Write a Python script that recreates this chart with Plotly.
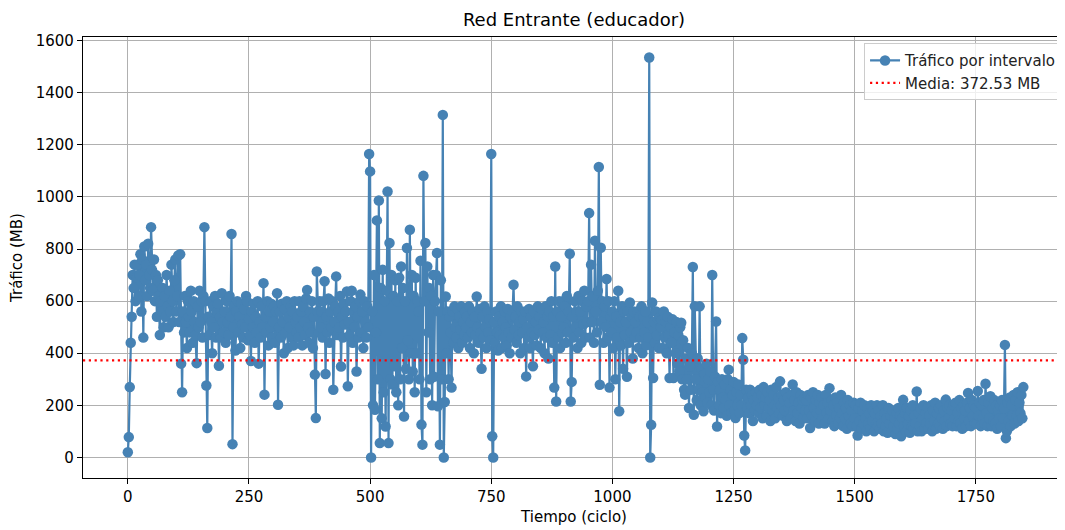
import plotly.graph_objects as go

# Tráfico (MB) por intervalo, un valor cada 2 ciclos (filas de 50 ciclos)
paso = 2
trafico = [
    # 0-48
    20, 78, 270, 440, 540, 700, 650, 740, 600, 690, 740, 620, 700, 780, 560, 760, 460, 810, 680, 740, 620, 820, 700, 650, 884,
    # 50-98
    720, 640, 760, 600, 700, 540, 680, 620, 470, 600, 560, 650, 500, 620, 540, 700, 580, 500, 640, 560, 740, 600, 520, 680, 760,
    # 100-148
    560, 620, 775, 520, 780, 360, 250, 560, 480, 620, 520, 420, 600, 540, 480, 640, 560, 440, 600, 520, 470, 362, 580, 500, 640,
    # 150-198
    520, 600, 460, 620, 884, 600, 276, 113, 540, 470, 600, 520, 400, 580, 500, 620, 460, 560, 590, 352, 540, 460, 630, 520, 480,
    # 200-248
    560, 440, 600, 520, 470, 620, 540, 858, 51, 500, 580, 410, 560, 600, 480, 540, 420, 590, 510, 460, 570, 500, 620, 600, 450,
    # 250-298
    530, 470, 370, 560, 500, 590, 440, 540, 480, 600, 360, 520, 460, 580, 500, 669, 241, 540, 480, 600, 430, 560, 500, 590, 460,
    # 300-348
    520, 580, 440, 560, 630, 202, 500, 560, 460, 590, 520, 400, 570, 480, 600, 420, 540, 500, 580, 460, 560, 430, 600, 520, 480,
    # 350-398
    540, 460, 600, 500, 560, 430, 580, 520, 470, 610, 643, 500, 440, 560, 480, 600, 420, 540, 318, 151, 714, 560, 480, 600, 500,
    # 400-448
    560, 460, 600, 676, 320, 540, 480, 610, 440, 560, 500, 600, 260, 520, 580, 695, 470, 560, 500, 620, 349, 540, 460, 590, 510,
    # 450-498
    560, 637, 273, 520, 470, 600, 640, 440, 560, 500, 580, 330, 540, 460, 600, 625, 480, 560, 420, 600, 520, 460, 580, 500, 1165,
    # 500-548
    1098, 0, 560, 200, 700, 183, 480, 910, 300, 986, 55, 650, 150, 720, 250, 600, 119, 640, 1021, 55, 823, 300, 700, 280, 620,
    # 550-598
    350, 680, 250, 600, 200, 690, 300, 733, 420, 650, 157, 600, 340, 804, 450, 300, 874, 400, 700, 330, 620, 250, 690, 400, 600,
    # 600-648
    560, 300, 755, 126, 49, 1081, 600, 823, 250, 733, 480, 650, 300, 620, 200, 700, 310, 600, 700, 785, 196, 560, 49, 680, 300,
    # 650-698
    1315, 0, 213, 618, 400, 560, 300, 540, 480, 268, 560, 440, 580, 500, 460, 570, 420, 540, 490, 580, 440, 520, 470, 560, 500,
    # 700-748
    540, 460, 580, 420, 520, 480, 560, 400, 540, 470, 618, 500, 440, 570, 480, 340, 540, 460, 580, 500, 420, 560, 480, 530, 450,
    # 750-798
    1165, 81, 0, 520, 440, 560, 480, 410, 540, 470, 580, 420, 520, 460, 560, 500, 430, 570, 480, 400, 540, 460, 560, 663, 490,
    # 800-848
    540, 440, 580, 470, 520, 400, 560, 480, 530, 420, 560, 311, 500, 460, 570, 420, 540, 480, 350, 560, 470, 520, 430, 580, 490,
    # 850-898
    540, 420, 570, 480, 520, 400, 580, 460, 540, 380, 560, 470, 600, 440, 540, 268, 733, 215, 560, 460, 600, 420, 540, 480, 600,
    # 900-948
    500, 580, 440, 620, 480, 560, 782, 215, 290, 540, 460, 600, 500, 560, 420, 620, 480, 560, 440, 600, 510, 640, 460, 580, 520,
    # 950-998
    600, 938, 460, 740, 520, 620, 440, 832, 560, 480, 640, 1115, 279, 805, 520, 600, 440, 580, 500, 685, 460, 600, 268, 540, 480,
    # 1000-1048
    560, 420, 600, 300, 540, 460, 640, 177, 520, 430, 580, 340, 560, 470, 520, 310, 560, 440, 595, 480, 540, 380, 560, 460, 520,
    # 1050-1098
    480, 560, 420, 540, 460, 580, 400, 540, 480, 560, 430, 520, 460, 1535, 0, 125, 595, 305, 520, 440, 560, 470, 530, 420, 540,
    # 1100-1148
    500, 528, 420, 560, 460, 520, 400, 540, 470, 305, 500, 440, 530, 305, 480, 400, 520, 360, 470, 330, 500, 517, 300, 450, 260,
    # 1150-1198
    241, 380, 300, 420, 190, 350, 260, 400, 731, 164, 580, 300, 220, 380, 260, 580, 200, 340, 250, 177, 320, 230, 360, 210, 300,
    # 1200-1248
    250, 330, 200, 700, 260, 180, 310, 522, 119, 290, 200, 260, 170, 300, 230, 190, 280, 220, 160, 300, 337, 200, 260, 170, 240,
    # 1250-1298
    290, 180, 151, 250, 200, 280, 170, 240, 200, 458, 375, 84, 27, 260, 190, 230, 170, 260, 200, 240, 140, 220, 180, 250, 200,
    # 1300-1348
    230, 170, 260, 190, 240, 150, 270, 200, 230, 160, 250, 190, 220, 140, 260, 180, 240, 200, 150, 270, 190, 230, 170, 292, 200,
    # 1350-1398
    240, 160, 220, 180, 250, 140, 230, 190, 210, 150, 240, 280, 180, 220, 140, 250, 170, 210, 130, 240, 190, 220, 150, 230, 180,
    # 1400-1448
    220, 150, 240, 180, 113, 230, 160, 250, 190, 140, 220, 170, 240, 130, 210, 180, 230, 150, 200, 130, 240, 170, 210, 150, 266,
    # 1450-1498
    180, 220, 140, 200, 120, 230, 160, 210, 130, 190, 150, 240, 170, 120, 210, 150, 190, 110, 220, 160, 200, 130, 180, 120, 210,
    # 1500-1548
    150, 200, 120, 84, 190, 140, 210, 110, 180, 130, 200, 150, 100, 190, 130, 170, 110, 200, 140, 180, 100, 170, 130, 200, 120,
    # 1550-1598
    180, 110, 160, 130, 200, 100, 170, 120, 150, 95, 190, 130, 160, 100, 180, 120, 150, 90, 170, 110, 190, 130, 160, 81, 150,
    # 1600-1648
    221, 120, 170, 100, 190, 130, 160, 95, 180, 120, 200, 110, 160, 130, 253, 100, 170, 120, 190, 100, 150, 200, 110, 170, 130,
    # 1650-1698
    190, 110, 160, 130, 200, 100, 180, 140, 210, 110, 170, 130, 190, 120, 200, 150, 110, 180, 140, 222, 120, 190, 150, 200, 130,
    # 1700-1748
    180, 120, 200, 150, 210, 120, 170, 140, 220, 130, 190, 110, 200, 150, 180, 120, 210, 247, 140, 190, 120, 220, 160, 200, 130,
    # 1750-1798
    190, 130, 255, 160, 210, 120, 200, 150, 220, 130, 283, 170, 120, 210, 150, 235, 120, 190, 140, 220, 130, 200, 110, 180, 150,
    # 1800-1848
    200, 120, 220, 150, 190, 432, 74, 100, 210, 140, 230, 120, 200, 160, 240, 130, 220, 160, 250, 140, 210, 170, 240, 150, 270,
]
ciclos = [i * paso for i in range(len(trafico))]
media = 372.53

x_ticks = [0, 250, 500, 750, 1000, 1250, 1500, 1750]
y_ticks = [0, 200, 400, 600, 800, 1000, 1200, 1400, 1600]

azul = "#4682B4"
fuente = "DejaVu Sans"

fig = go.Figure()
fig.add_trace(go.Scatter(
    x=ciclos, y=trafico, mode="lines+markers",
    name="Tráfico por intervalo",
    line=dict(color=azul, width=2.2),
    marker=dict(color=azul, size=10.5),
))
fig.add_shape(
    type="line", xref="paper", x0=0, x1=1, yref="y", y0=media, y1=media,
    line=dict(color="red", width=2.2, dash="2.2px,3.6px"),
    showlegend=True, name=f"Media: {media:.2f} MB", layer="above",
)

fig.update_layout(
    width=1057, height=522,
    margin=dict(l=75, r=0, t=29, b=52, autoexpand=False),
    paper_bgcolor="white", plot_bgcolor="white",
    font=dict(family=fuente, size=15, color="black"),
    title=dict(text="Red Entrante (educador)", x=0.5, xanchor="center",
               xref="paper", y=0.977, yref="container", yanchor="middle",
               font=dict(family=fuente, size=18, color="black")),
    legend=dict(x=0.997, xanchor="right", y=0.986, yanchor="top",
                bgcolor="rgba(255,255,255,0.8)", bordercolor="#cccccc",
                borderwidth=1, font=dict(family=fuente, size=15, color="#222"),
                tracegroupgap=0),
    showlegend=True,
)
fig.update_xaxes(
    range=[-92.5, 1934], tickvals=x_ticks, ticktext=[str(v) for v in x_ticks],
    showgrid=True, gridcolor="#b0b0b0", gridwidth=1.1,
    showline=True, linecolor="black", linewidth=1.2, mirror=True,
    ticks="outside", ticklen=5, tickwidth=1.2, tickcolor="black", zeroline=False,
    automargin=False, tickfont=dict(family=fuente, size=15, color="black"),
    title=dict(text="Tiempo (ciclo)", standoff=6,
               font=dict(family=fuente, size=15, color="black")),
)
fig.update_yaxes(
    range=[-79, 1614], tickvals=y_ticks, ticktext=[str(v) for v in y_ticks],
    showgrid=True, gridcolor="#b0b0b0", gridwidth=1.1,
    showline=True, linecolor="black", linewidth=1.2, mirror=False,
    ticks="outside", ticklen=5, tickwidth=1.2, tickcolor="black", zeroline=False,
    automargin=False, tickfont=dict(family=fuente, size=15, color="black"),
    title=dict(text="Tráfico (MB)", standoff=12,
               font=dict(family=fuente, size=15, color="black")),
)

fig.write_html("out.html")
